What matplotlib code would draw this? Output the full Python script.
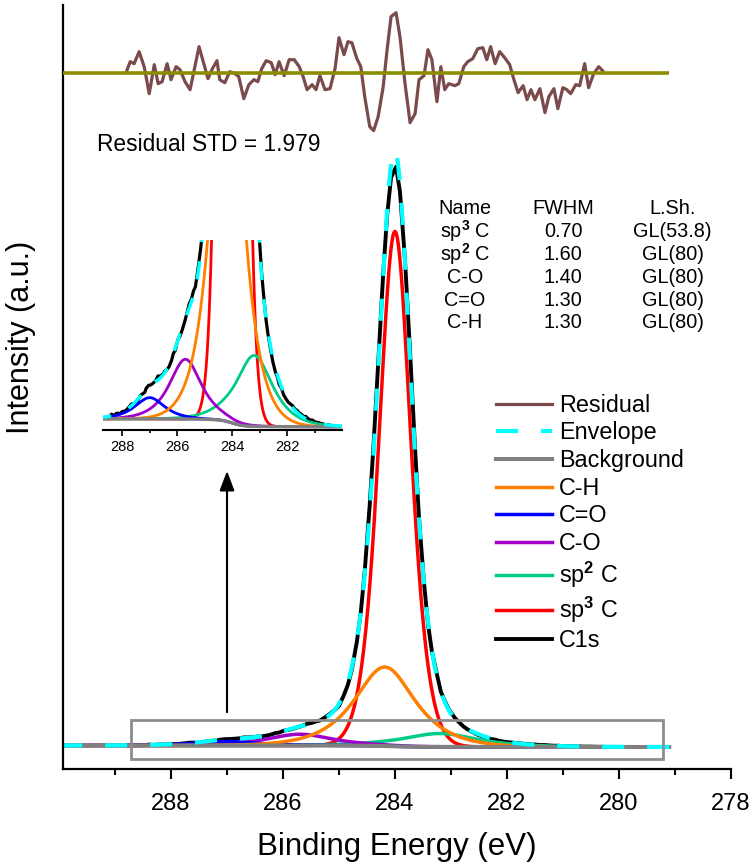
import numpy as np
import matplotlib.pyplot as plt
from matplotlib.patches import Rectangle

plt.rcParams['font.family'] = ['Liberation Sans', 'DejaVu Sans']
plt.rcParams['mathtext.fontset'] = 'custom'
plt.rcParams['mathtext.rm'] = 'Liberation Sans'
plt.rcParams['mathtext.it'] = 'Liberation Sans:italic'
plt.rcParams['mathtext.bf'] = 'Liberation Sans:bold'

# fitted components (CasaXPS style GL line shapes)
peak_labels = ['C-H', 'C=O', 'C-O', r'sp$^{\mathbf{2}}$ C', r'sp$^{\mathbf{3}}$ C']
peak_centers = [284.18, 287.00, 285.70, 283.20, 284.00]
peak_fwhm = [1.30, 1.30, 1.40, 1.60, 0.70]
peak_gl = [80, 80, 80, 80, 53.8]
peak_heights = [79.0, 4.0, 11.3, 13.4, 515.0]
peak_colors = ['#ff8000', '#0000ff', '#a000c8', '#00cc88', '#ff0000']

# Shirley background levels (low BE side, high BE side)
bg_low = 0.0
bg_high = 1.5
fit_range = (279.1, 290.0)

# table shown on the plot
table_names = [r'sp$^{\mathbf{3}}$ C', r'sp$^{\mathbf{2}}$ C', 'C-O', 'C=O', 'C-H']
table_fwhm = ['0.70', '1.60', '1.40', '1.30', '1.30']
table_lsh = ['GL(53.8)', 'GL(80)', 'GL(80)', 'GL(80)', 'GL(80)']
residual_std = 1.979

# residual (binding energy, normalised residual)
resid_be = [288.79, 288.73, 288.66, 288.57, 288.48, 288.39, 288.30, 288.23, 288.16, 288.07,
            288.00, 287.91, 287.84, 287.75, 287.66, 287.50, 287.41, 287.34, 287.27, 287.18,
            287.13, 287.04, 286.95, 286.86, 286.79, 286.70, 286.61, 286.52, 286.45, 286.38,
            286.30, 286.21, 286.14, 286.07, 285.98, 285.89, 285.80, 285.71, 285.64, 285.57,
            285.48, 285.41, 285.34, 285.25, 285.16, 285.07, 285.00, 284.91, 284.84, 284.77,
            284.68, 284.61, 284.54, 284.45, 284.38, 284.30, 284.21, 284.14, 284.07, 283.98,
            283.91, 283.82, 283.73, 283.64, 283.57, 283.48, 283.41, 283.34, 283.25, 283.18,
            283.11, 283.04, 282.93, 282.86, 282.77, 282.70, 282.61, 282.52, 282.43, 282.36,
            282.29, 282.21, 282.13, 282.04, 281.95, 281.88, 281.80, 281.71, 281.64, 281.57,
            281.50, 281.41, 281.32, 281.25, 281.16, 281.09, 281.00, 280.93, 280.86, 280.77,
            280.70, 280.61, 280.54, 280.45, 280.36, 280.29]
resid_val = [2, 11, 9, 21, 6, -21, 8, -11, -9, 9,
             -7, 6, 3, -9, -17, 26, 8, -6, 3, 12,
             -7, -10, 1, -1, -4, -26, -12, -7, -9, 4,
             12, 10, -2, 11, -3, 13, 13, 6, -4, -17,
             -12, -17, -3, -17, -16, 4, 35, 18, 31, 30,
             14, 6, -24, -54, -58, -44, -14, 23, 56, 60,
             36, -11, -50, -41, -7, -3, 23, 13, -29, 6,
             -17, -11, -13, -11, 6, 11, 14, 24, 25, 13,
             26, 9, 21, 15, 8, -6, -20, -13, -27, -17,
             -27, -16, -40, -24, -16, -36, -15, -17, -21, -12,
             -13, 9, -15, -1, 6, 2]
resid_offset = 674.5
resid_scale = 0.0095   # residual -> counts, times sqrt(fit)


def gl(x, c, f, m):
    m = m / 100.0
    u = (x - c) ** 2 / f ** 2
    return np.exp(-4 * np.log(2) * (1 - m) * u) / (1 + 4 * m * u)


grid = np.linspace(fit_range[0], fit_range[1], 1200)
comps = [h * gl(grid, c, f, m) for c, f, m, h in zip(peak_centers, peak_fwhm, peak_gl, peak_heights)]
total = np.sum(comps, axis=0)
cum = np.concatenate([[0.0], np.cumsum((total[1:] + total[:-1]) / 2 * np.diff(grid))])
background = bg_low + (bg_high - bg_low) * cum / cum[-1]
envelope = background + total

rb = np.array(resid_be)
rv = np.array(resid_val, dtype=float)
env_r = np.interp(rb, grid, background) + np.sum(
    [h * gl(rb, c, f, m) for c, f, m, h in zip(peak_centers, peak_fwhm, peak_gl, peak_heights)], axis=0)
c1s = env_r - resid_scale * rv * np.sqrt(env_r)


def draw_curves(ax, lw):
    hs = []
    hs.append(ax.plot(rb, c1s, color='black', lw=lw + 0.3, label='C1s')[0])
    for i in [4, 3, 2, 1, 0]:
        hs.append(ax.plot(grid, background + comps[i], color=peak_colors[i], lw=lw,
                          label=peak_labels[i])[0])
    hs.append(ax.plot(grid, background, color='#808080', lw=lw + 0.4, label='Background')[0])
    hs.append(ax.plot(grid, envelope, color='#00ffff', lw=lw + 0.5, dashes=(5.3, 5.5),
                      label='Envelope')[0])
    return hs


fig = plt.figure(figsize=(7.52, 8.65), dpi=100)
ax = fig.add_axes([0.0838, 0.111, 0.888, 0.883])

handles = draw_curves(ax, 2.5)
h_res = ax.plot(rb, resid_offset + rv, color='#7b4b4b', lw=2.3, label='Residual')[0]
ax.hlines(resid_offset, fit_range[0], fit_range[1], color='#8c8c00', lw=2.6, zorder=5)
handles.append(h_res)

ax.add_patch(Rectangle((279.21, -12), 288.71 - 279.21, 39, fill=False,
                       edgecolor='#8c8c8c', lw=2, zorder=6))
ax.annotate('', xy=(287.0, 279), xytext=(287.0, 32),
            arrowprops=dict(arrowstyle='-|>,head_length=0.8,head_width=0.3',
                            color='black', lw=1.5, mutation_scale=15))

ax.set_xlim(289.93, 278)
ax.set_ylim(-22, 742)
ax.set_xticks(np.arange(288, 277, -2))
ax.set_xticks(np.arange(289, 278, -2), minor=True)
ax.set_yticks([])
for s in ['top', 'right']:
    ax.spines[s].set_visible(False)
for s in ['left', 'bottom']:
    ax.spines[s].set_linewidth(1.6)
ax.tick_params(axis='x', which='major', direction='out', length=7, width=1.5,
               labelsize=17, pad=10.5)
ax.tick_params(axis='x', which='minor', direction='out', length=4.5, width=1.5)
ax.set_xlabel('Binding Energy (eV)', fontsize=22.5, labelpad=12)
ax.set_ylabel('Intensity (a.u.)', fontsize=22)
ax.yaxis.set_label_coords(-0.040, 0.565)

ax.text(0.051, 0.817, f'Residual STD = {residual_std}', transform=ax.transAxes,
        fontsize=16.4, va='center', ha='left')

col_x = [0.602, 0.749, 0.913]
row_y0 = 0.734
row_dy = 0.0300
for x, head in zip(col_x, ['Name', 'FWHM', 'L.Sh.']):
    ax.text(x, row_y0, head, transform=ax.transAxes, fontsize=14.3, ha='center', va='center')
for i in range(len(table_names)):
    y = row_y0 - (i + 1) * row_dy
    for x, txt in zip(col_x, [table_names[i], table_fwhm[i], table_lsh[i]]):
        ax.text(x, y, txt, transform=ax.transAxes, fontsize=14.3, ha='center', va='center')

leg = ax.legend(handles[::-1], [h.get_label() for h in handles[::-1]],
                loc='upper left', bbox_to_anchor=(0.635, 0.5035), frameon=False,
                fontsize=16.8, handlelength=2.4, handletextpad=0.28, labelspacing=0.2,
                borderaxespad=0)

# zoomed inset of the low intensity region
axin = fig.add_axes([0.137, 0.503, 0.318, 0.2197])
draw_curves(axin, 2.0)
axin.set_xlim(288.7, 280.0)
axin.set_ylim(-0.6, 35.3)
axin.set_xticks(np.arange(288, 280, -2))
axin.set_xticks(np.arange(287, 280, -1), minor=True)
axin.set_yticks([])
for s in ['top', 'right', 'left']:
    axin.spines[s].set_visible(False)
axin.spines['bottom'].set_linewidth(1.5)
axin.tick_params(axis='x', which='major', direction='out', length=4, width=1.2,
                 labelsize=10.5, pad=3)
axin.tick_params(axis='x', which='minor', direction='out', length=2.5, width=1.2)
axin.patch.set_alpha(0)

fig.savefig('out.png', dpi=100)
